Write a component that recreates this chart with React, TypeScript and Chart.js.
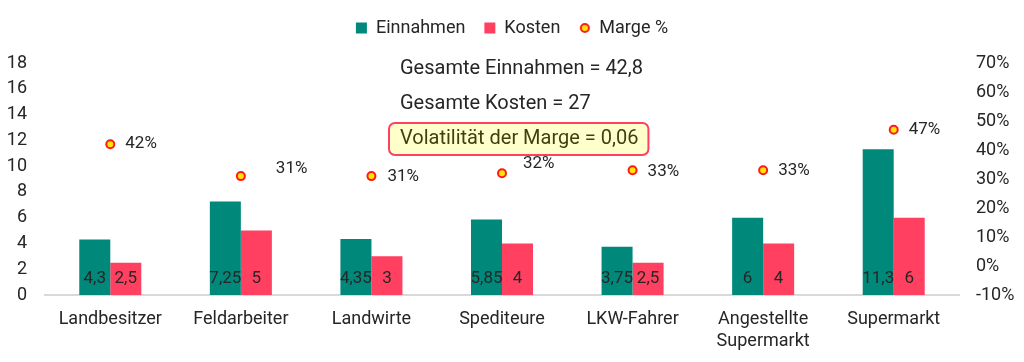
import React, { useEffect, useRef } from 'react';
import { Chart, registerables } from 'chart.js';

Chart.register(...registerables);

const categories: (string | string[])[] = [
  'Landbesitzer',
  'Feldarbeiter',
  'Landwirte',
  'Spediteure',
  'LKW-Fahrer',
  ['Angestellte', 'Supermarkt'],
  'Supermarkt',
];
const einnahmen = [4.3, 7.25, 4.35, 5.85, 3.75, 6, 11.3];
const kosten = [2.5, 5, 3, 4, 2.5, 4, 6];
const marge = [0.42, 0.31, 0.31, 0.32, 0.33, 0.33, 0.47];
const leftAxis = { min: 0, max: 18, step: 2 };
const rightAxis = { min: -0.1, max: 0.7, step: 0.1 };
const volatilitaet = '0,06';
const seriesNames = ['Einnahmen', 'Kosten', 'Marge %'];

// label offsets (style) for the margin labels, relative to each point
const margeLabelOffsets: [number, number][] = [
  [15, 0],
  [35, -7],
  [16, 1],
  [21, -9],
  [15, 1],
  [15, 0],
  [15, 0],
];

const FONT = 'Roboto, "Noto Sans", sans-serif';
const TEXT = '#262626';
const TEAL = '#00897B';
const RED = '#FF4060';

const fmt = (v: number) => String(Math.round(v * 100) / 100).replace('.', ',');

function makeCircleIcon(): HTMLCanvasElement {
  const c = document.createElement('canvas');
  c.width = 12;
  c.height = 12;
  const ctx = c.getContext('2d')!;
  ctx.beginPath();
  ctx.arc(6, 6, 4, 0, Math.PI * 2);
  ctx.fillStyle = '#FFE600';
  ctx.fill();
  ctx.lineWidth = 2;
  ctx.strokeStyle = '#FF1A1A';
  ctx.stroke();
  return c;
}

const labelsPlugin = {
  id: 'customLabels',
  afterDatasetsDraw(chart: any) {
    const ctx = chart.ctx;
    ctx.save();
    ctx.fillStyle = TEXT;
    ctx.font = `17px ${FONT}`;
    ctx.textBaseline = 'middle';
    const yScale = chart.scales.y;
    const base = yScale.getPixelForValue(0);
    [0, 1].forEach((di) => {
      const meta = chart.getDatasetMeta(di);
      const data = chart.data.datasets[di].data as number[];
      meta.data.forEach((bar: any, i: number) => {
        ctx.textAlign = 'center';
        ctx.fillText(fmt(data[i]), bar.x, base - 16);
      });
    });
    const meta2 = chart.getDatasetMeta(2);
    const data2 = chart.data.datasets[2].data as number[];
    meta2.data.forEach((pt: any, i: number) => {
      const [dx, dy] = margeLabelOffsets[i];
      ctx.textAlign = 'left';
      ctx.fillText(Math.round(data2[i] * 100) + '%', pt.x + dx, pt.y + dy);
    });
    ctx.restore();
  },
  afterDraw(chart: any) {
    const ctx = chart.ctx;
    const area = chart.chartArea;
    const totalE = einnahmen.reduce((a, b) => a + b, 0);
    const totalK = kosten.reduce((a, b) => a + b, 0);
    const x0 = area.left + 355;
    ctx.save();
    ctx.font = `20px ${FONT}`;
    ctx.textBaseline = 'middle';
    ctx.textAlign = 'left';
    ctx.fillStyle = TEXT;
    ctx.fillText(`Gesamte Einnahmen = ${fmt(totalE)}`, x0, area.top + 6);
    ctx.fillText(`Gesamte Kosten = ${fmt(totalK)}`, x0, area.top + 41);
    const label = `Volatilität der Marge = ${volatilitaet}`;
    const w = ctx.measureText(label).width;
    const bx = x0 - 11;
    const by = area.top + 60;
    const bw = w + 21;
    const bh = 32;
    ctx.beginPath();
    ctx.roundRect(bx, by, bw, bh, 6);
    ctx.fillStyle = '#FFFFCC';
    ctx.fill();
    ctx.lineWidth = 2;
    ctx.strokeStyle = RED;
    ctx.stroke();
    ctx.fillStyle = '#3F3F12';
    ctx.fillText(label, x0, by + bh / 2);
    ctx.restore();
  },
};

export default function App() {
  const ref = useRef<HTMLCanvasElement>(null);

  useEffect(() => {
    if (!ref.current) return;
    const circleIcon = makeCircleIcon();
    const chart = new Chart(ref.current, {
      type: 'bar',
      data: {
        labels: categories as any,
        datasets: [
          {
            label: seriesNames[0],
            data: einnahmen,
            backgroundColor: TEAL,
            borderWidth: 0,
            yAxisID: 'y',
            categoryPercentage: 0.475,
            barPercentage: 1,
          },
          {
            label: seriesNames[1],
            data: kosten,
            backgroundColor: RED,
            borderWidth: 0,
            yAxisID: 'y',
            categoryPercentage: 0.475,
            barPercentage: 1,
          },
          {
            type: 'line',
            label: seriesNames[2],
            data: marge,
            yAxisID: 'y1',
            showLine: false,
            pointRadius: 4,
            pointBorderWidth: 2,
            pointBackgroundColor: '#FFE600',
            pointBorderColor: '#FF1A1A',
            backgroundColor: '#FFE600',
            borderColor: '#FF1A1A',
          } as any,
        ],
      },
      options: {
        animation: false,
        responsive: true,
        maintainAspectRatio: false,
        layout: { padding: 0 },
        plugins: {
          tooltip: { enabled: false },
          title: {
            display: true,
            text: '',
            position: 'top',
            weight: 500,
            padding: 0,
            font: { size: 16, lineHeight: 1 },
          } as any,
          legend: {
            position: 'top',
            labels: {
              usePointStyle: true,
              boxWidth: 11,
              boxHeight: 11,
              padding: 19,
              color: TEXT,
              font: { family: FONT, size: 18 },
              generateLabels(c: any) {
                const items = Chart.defaults.plugins.legend.labels.generateLabels(c);
                items.forEach((it: any) => {
                  it.lineWidth = 0;
                  it.pointStyle = it.datasetIndex === 2 ? circleIcon : 'rect';
                });
                items.sort((a: any, b: any) => a.datasetIndex - b.datasetIndex);
                return items;
              },
            },
          },
        },
        scales: {
          x: {
            grid: { display: false, drawTicks: false },
            border: { display: true, color: '#D9D9D9', width: 2 },
            ticks: {
              color: TEXT,
              font: { family: FONT, size: 18 },
              padding: 14,
              maxRotation: 0,
              autoSkip: false,
            },
            afterFit(scale: any) {
              scale.height = 67;
            },
          },
          y: {
            position: 'left',
            min: leftAxis.min,
            max: leftAxis.max,
            grid: { display: false, drawTicks: false },
            border: { display: false },
            ticks: {
              stepSize: leftAxis.step,
              color: TEXT,
              font: { family: FONT, size: 18 },
              padding: 18,
            },
            afterFit(scale: any) {
              scale.width = 45;
            },
          },
          y1: {
            position: 'right',
            min: rightAxis.min,
            max: rightAxis.max,
            grid: { display: false, drawTicks: false },
            border: { display: false },
            ticks: {
              stepSize: rightAxis.step,
              color: TEXT,
              font: { family: FONT, size: 18 },
              padding: 17,
              callback: (v: any) => Math.round(Number(v) * 100) + '%',
            },
            afterFit(scale: any) {
              scale.width = 65;
            },
          },
        },
      },
      plugins: [labelsPlugin],
    });
    return () => chart.destroy();
  }, []);

  return (
    <div style={{ position: 'absolute', left: 0, top: 0, width: 1024, height: 362, background: '#fff' }}>
      <canvas ref={ref} />
    </div>
  );
}
